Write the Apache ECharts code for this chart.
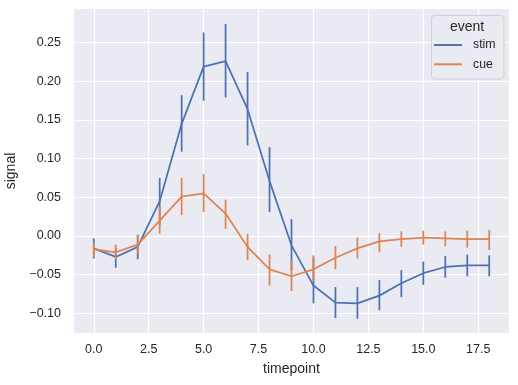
<!DOCTYPE html>
<html><head><meta charset="utf-8">
<script src="https://cdn.jsdelivr.net/npm/echarts@6/dist/echarts.min.js"></script>
<style>html,body{margin:0;padding:0;background:#fff}#c{width:518px;height:385px}</style>
</head><body><div id="c"></div>
<script>
const timepoints = [0,1,2,3,4,5,6,7,8,9,10,11,12,13,14,15,16,17,18];
const stimMean = [-0.016,-0.027,-0.014,0.045,0.145,0.219,0.226,0.164,0.071,-0.012,-0.064,-0.086,-0.087,-0.077,-0.061,-0.048,-0.040,-0.038,-0.038];
const stimLow  = [-0.029,-0.041,-0.030,0.014,0.109,0.175,0.179,0.117,0.031,-0.045,-0.087,-0.106,-0.107,-0.096,-0.079,-0.063,-0.054,-0.052,-0.052];
const stimHigh = [-0.003,-0.016,0.001,0.075,0.182,0.263,0.274,0.212,0.115,0.022,-0.028,-0.066,-0.066,-0.057,-0.044,-0.033,-0.026,-0.024,-0.025];
const cueMean  = [-0.017,-0.021,-0.011,0.020,0.051,0.055,0.029,-0.014,-0.043,-0.052,-0.043,-0.028,-0.016,-0.007,-0.004,-0.002,-0.003,-0.004,-0.004];
const cueLow   = [-0.027,-0.031,-0.023,0.003,0.027,0.031,0.009,-0.031,-0.064,-0.071,-0.059,-0.043,-0.029,-0.021,-0.014,-0.011,-0.013,-0.015,-0.018];
const cueHigh  = [-0.008,-0.011,0.002,0.038,0.075,0.080,0.047,0.003,-0.024,-0.032,-0.025,-0.013,-0.002,0.004,0.006,0.007,0.006,0.007,0.008];
const xTicks = [0,2.5,5,7.5,10,12.5,15,17.5];
const yTicks = [-0.10,-0.05,0.00,0.05,0.10,0.15,0.20,0.25];
const seriesNames = ['stim','cue'];
const colors = ['#4c72b0','#dd8452'];
const txt = '#262626';
const font = 'Liberation Sans, Arial, sans-serif';

function errSeries(name, color, lo, hi, z) {
  return {
    name: name + '_err', type: 'custom', z: z, silent: true,
    data: timepoints.map((t,i)=>[t, lo[i], hi[i]]),
    encode: {x: 0, y: [1,2]},
    renderItem: function(params, api) {
      const a = api.coord([api.value(0), api.value(1)]);
      const b = api.coord([api.value(0), api.value(2)]);
      return {type:'line', shape:{x1:a[0],y1:a[1],x2:b[0],y2:b[1]},
        style:{stroke:color, lineWidth:1.75}};
    }
  };
}
function lineSeries(name, color, vals, z) {
  return {name:name, type:'line', z:z, data: timepoints.map((t,i)=>[t, vals[i]]),
    showSymbol:false, symbol:'none', color: color,
    lineStyle:{color:color, width:1.75}, itemStyle:{color:color}};
}
const chart = echarts.init(document.getElementById('c'), null, {renderer:'canvas'});
chart.setOption({
  animation:false,
  backgroundColor:'#ffffff',
  grid:{left:74, right:9, top:9, bottom:52, show:true, backgroundColor:'#eaeaf2', borderWidth:0,
    containLabel:false, outerBoundsMode:'none'},
  xAxis:{type:'value', min:-0.9, max:18.9,
    name:'timepoint', nameLocation:'middle', nameGap:29,
    nameTextStyle:{color:txt, fontSize:14, fontFamily:font},
    axisLine:{show:false},
    axisTick:{show:false, customValues:xTicks},
    axisLabel:{customValues:xTicks, color:txt, fontSize:12.5, fontFamily:font, margin:10,
      formatter:v=>v.toFixed(1)},
    splitLine:{show:true, lineStyle:{color:'#ffffff', width:1.2}}
  },
  yAxis:{type:'value', min:-0.1253, max:0.2934,
    name:'signal', nameLocation:'middle', nameGap:53,
    nameTextStyle:{color:txt, fontSize:14, fontFamily:font},
    axisLine:{show:false},
    axisTick:{show:false, customValues:yTicks},
    axisLabel:{customValues:yTicks, color:txt, fontSize:12.5, fontFamily:font, margin:13,
      formatter:v=>v.toFixed(2).replace('-', '\u2212')},
    splitLine:{show:true, lineStyle:{color:'#ffffff', width:1.2}}
  },
  legend:{data:seriesNames, orient:'vertical', left:434, top:38, padding:0, z:60,
    itemWidth:28, itemHeight:2, icon:'rect', itemGap:5.3,
    textStyle:{color:txt, fontSize:12.3, lineHeight:14, fontFamily:font, padding:[0,0,0,6]}},
  graphic:[
    {type:'rect', left:431, top:15, z:50, shape:{width:72.5, height:63.5, r:3},
      style:{fill:'rgba(234,234,242,0.8)', stroke:'#d0d0d0', lineWidth:1}},
    {type:'text', x:467, y:27, z:51, style:{text:'event', fill:txt, font:'14px '+font,
      textAlign:'center', textVerticalAlign:'middle'}}
  ],
  series:[
    lineSeries('stim', colors[0], stimMean, 2),
    errSeries('stim', colors[0], stimLow, stimHigh, 3),
    lineSeries('cue', colors[1], cueMean, 4),
    errSeries('cue', colors[1], cueLow, cueHigh, 5)
  ]
});
</script></body></html>
